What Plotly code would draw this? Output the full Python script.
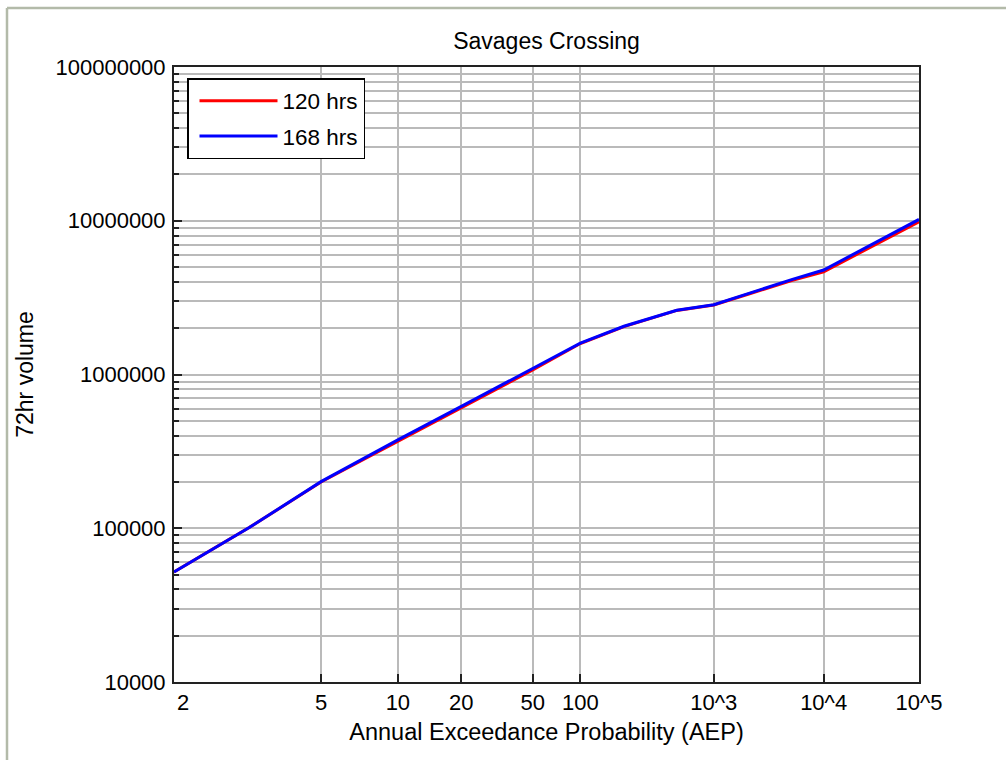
from statistics import NormalDist
import plotly.graph_objects as go

# ---- data ----
AEP = [2, 3, 5, 10, 20, 50, 100, 200, 500, 1000, 2000, 5000, 10000, 20000, 50000, 100000]
VOL_120 = [52000, 101000, 200000, 369000, 610000, 1070000, 1590000, 2050000, 2610000,
           2830000, 3340000, 4100000, 4660000, 5890000, 7930000, 9840000]
VOL_168 = [52000, 101000, 201000, 376000, 620000, 1090000, 1600000, 2060000, 2620000,
           2840000, 3370000, 4160000, 4780000, 6080000, 8150000, 10200000]
SERIES_NAMES = ["120 hrs", "168 hrs"]

X_TICK_AEP = [2, 5, 10, 20, 50, 100, 1000, 10000, 100000]
X_TICK_LABELS = ["\u00a0\u00a0\u00a02", "5", "10", "20", "50", "100", "10^3", "10^4", "10^5"]
Y_TICK_VALUES = [1e4, 1e5, 1e6, 1e7, 1e8]
Y_TICK_LABELS = ["10000", "100000", "1000000", "10000000", "100000000"]

# ---- probability (normal) scale for the x axis ----
nd = NormalDist()


def zscale(aep):
    return nd.inv_cdf(1.0 - 1.0 / aep)


x_vals = [zscale(a) for a in AEP]
minor_y = [k * 10 ** n for n in range(4, 8) for k in range(2, 10)]

W, H = 1006, 760
ML, MR, MT, MB = 174, 87, 67, 78
PW, PH = W - ML - MR, H - MT - MB

fig = go.Figure()
fig.add_trace(go.Scatter(x=x_vals, y=VOL_120, mode="lines", name=SERIES_NAMES[0],
                         line=dict(color="#ff0000", width=3), legendgroup="a"))
fig.add_trace(go.Scatter(x=x_vals, y=VOL_168, mode="lines", name=SERIES_NAMES[1],
                         line=dict(color="#0000ff", width=3), legendgroup="b"))

axis_col = "#222222"
grid_col = "#bababa"

fig.update_layout(
    width=W, height=H,
    margin=dict(l=ML, r=MR, t=MT, b=MB),
    paper_bgcolor="white", plot_bgcolor="white",
    font=dict(family="Arial, 'Liberation Sans', sans-serif", size=22, color="black"),
    title=dict(text="Savages Crossing", x=0.5, xref="paper", xanchor="center",
               y=1 - 41 / H, yref="container", yanchor="middle", font=dict(size=23)),
    showlegend=True,
    legend=dict(x=(187 - ML) / PW, y=(MT + PH - 78) / PH, xanchor="left", yanchor="top",
                bordercolor="black", borderwidth=1.5, bgcolor="white",
                itemwidth=78, indentation=6, font=dict(size=22.5), tracegroupgap=3,
                traceorder="grouped"),
    xaxis=dict(
        range=[zscale(2), zscale(100000)],
        tickmode="array", tickvals=[zscale(a) for a in X_TICK_AEP], ticktext=X_TICK_LABELS,
        ticks="inside", ticklen=8, tickcolor=axis_col, tickwidth=1.5,
        showgrid=True, gridcolor=grid_col, gridwidth=1.5,
        showline=True, linecolor=axis_col, linewidth=2, mirror=True, zeroline=False,
        ticklabelstandoff=0,
        title=dict(text="Annual Exceedance Probability (AEP)", font=dict(size=23.5), standoff=9),
    ),
    yaxis=dict(
        type="log", range=[4, 8],
        tickmode="array", tickvals=Y_TICK_VALUES, ticktext=Y_TICK_LABELS,
        ticks="inside", ticklen=8, tickcolor=axis_col, tickwidth=1.5,
        showgrid=True, gridcolor=grid_col, gridwidth=1.5,
        showline=True, linecolor=axis_col, linewidth=2, mirror=True, zeroline=False,
        ticklabelstandoff=2,
        minor=dict(tickmode="array", tickvals=minor_y, ticks="inside", ticklen=5,
                   tickcolor=axis_col, tickwidth=1.5,
                   showgrid=True, gridcolor=grid_col, gridwidth=1.5),
        title=dict(text="72hr volume", font=dict(size=23), standoff=15),
    ),
)

# outer window frame (left and top edges)
frame_col = "#b3baa9"
fig.add_shape(type="line", xref="paper", yref="paper",
              x0=(7 - ML) / PW, x1=(7 - ML) / PW, y0=(MT + PH - 8) / PH, y1=(MT + PH - H) / PH,
              line=dict(color=frame_col, width=2.5))
fig.add_shape(type="line", xref="paper", yref="paper",
              x0=(7 - ML) / PW, x1=(W - ML) / PW, y0=(MT + PH - 8) / PH, y1=(MT + PH - 8) / PH,
              line=dict(color=frame_col, width=2.5))

fig.write_html("out.html")
